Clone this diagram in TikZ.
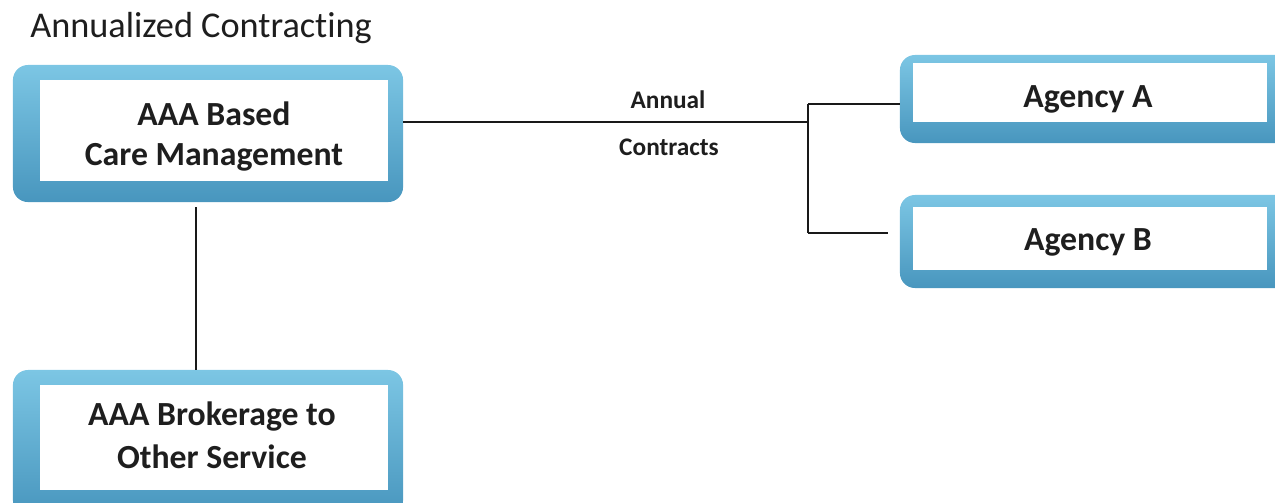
\documentclass[tikz,border=0pt]{standalone}
\usepackage{fontspec}
\setmainfont[Ligatures=NoCommon]{Carlito}
\definecolor{frametop}{HTML}{7CC6E4}
\definecolor{framebot}{HTML}{4896BE}
\definecolor{inktext}{HTML}{1E1E1E}
\tikzset{
  frame/.style={rectangle, rounded corners=0.375cm, top color=frametop, bottom color=framebot, draw=none, minimum width=9.75cm, inner sep=0pt},
  inner/.style={rectangle, fill=white, draw=none, inner sep=0pt},
  boxtext/.style={anchor=base, font=\bfseries\fontsize{24}{29}\selectfont, text=inktext, inner sep=0pt},
  lbl/.style={anchor=base, font=\bfseries\fontsize{18}{22}\selectfont, text=inktext, inner sep=0pt},
  conn/.style={draw=black!90, line width=0.9pt}
}
\begin{document}
\begin{tikzpicture}[x=0.025cm,y=-0.025cm]
\useasboundingbox (0,0) rectangle (1275,502);
\begin{scope}
\clip (0,0) rectangle (1275,502);
% title
\node[anchor=base west, inner sep=0pt, font=\fontsize{25.8}{30}\selectfont, text=inktext] (title) at (30,37) {Annualized Contracting};
% frames
\node[frame, minimum height=3.425cm] (care) at (208,133.5) {};
\node[inner, minimum width=8.7cm, minimum height=2.525cm] (carein) at (214,130.5) {};
\node[frame, minimum height=2.2cm] (agA) at (1095,99) {};
\node[inner, minimum width=8.85cm, minimum height=1.475cm] (agAin) at (1090,92.5) {};
\node[frame, minimum height=2.325cm] (agB) at (1095,241.5) {};
\node[inner, minimum width=8.85cm, minimum height=1.575cm] (agBin) at (1090,238.5) {};
\node[frame, minimum height=3.625cm] (brok) at (208,442.5) {};
\node[inner, minimum width=8.7cm, minimum height=2.625cm] (brokin) at (214,437.5) {};
% texts
\node[boxtext] (t1a) at (214,125) {AAA Based};
\node[boxtext] (t1b) at (214,165) {Care Management};
\node[boxtext] (tA) at (1088,107) {Agency A};
\node[boxtext] (tB) at (1088,250) {Agency B};
\node[boxtext] (t3a) at (212,425) {AAA Brokerage to};
\node[boxtext] (t3b) at (212,468) {Other Service};
\node[lbl] (ann) at (668,108) {Annual};
\node[lbl] (con) at (669,155) {Contracts};
% connectors
\coordinate (junc) at (808,122);
\coordinate (jtop) at (808,104);
\coordinate (jbot) at (808,233);
\coordinate (bend) at (888,233);
\coordinate (vx) at (196,0);
\coordinate (vtop) at (196,207);
\draw[conn] (care.east |- junc) -- (junc);
\draw[conn] (jtop) -- (jbot);
\draw[conn] (jtop) -- (agA.west |- jtop);
\draw[conn] (jbot) -- (bend);
\draw[conn] (vtop) -- (brok.north -| vx);
\end{scope}
\end{tikzpicture}
\end{document}
